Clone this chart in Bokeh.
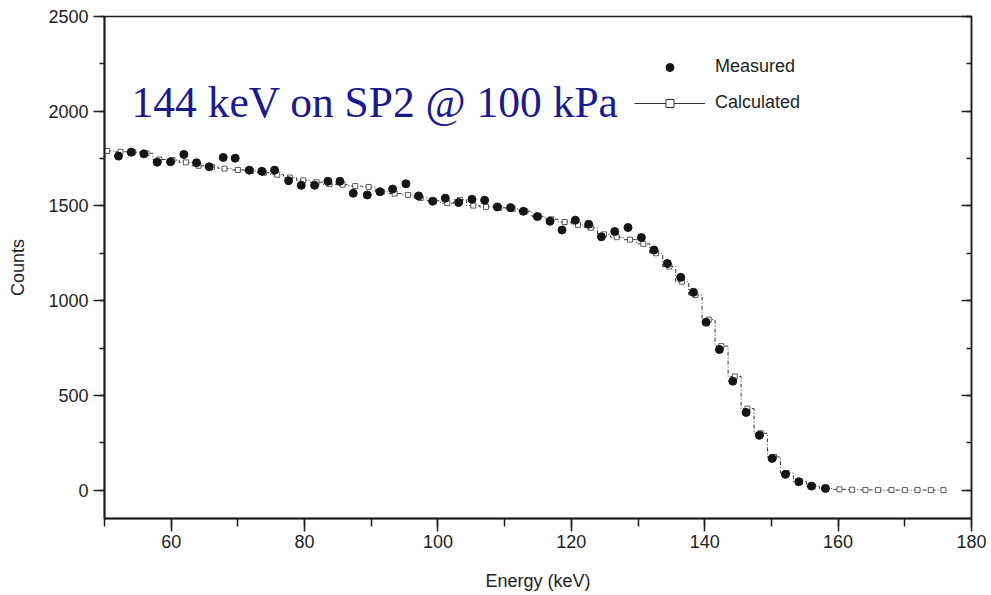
import math
from bokeh.plotting import figure
from bokeh.models import (Range1d, LinearAxis, Label, Legend, LegendItem,
                          SingleIntervalTicker, ColumnDataSource, CustomJSTickFormatter)
from bokeh.embed import file_html
from bokeh.resources import INLINE

# ---------------- data ----------------
measured_energy = [52.1, 54.0, 55.9, 57.9, 59.9, 61.9, 63.8, 65.7, 67.8, 69.6,
                   71.7, 73.6, 75.5, 77.6, 79.5, 81.5, 83.5, 85.3, 87.3, 89.4,
                   91.3, 93.2, 95.2, 97.1, 99.2, 101.1, 103.1, 105.1, 107.0, 108.9,
                   110.9, 112.8, 114.9, 116.8, 118.6, 120.6, 122.6, 124.5, 126.5, 128.5,
                   130.5, 132.4, 134.4, 136.4, 138.3, 140.2, 142.2, 144.2, 146.2, 148.2,
                   150.1, 152.1, 154.1, 156.0, 158.1]
measured_counts = [1763, 1784, 1775, 1731, 1733, 1772, 1728, 1707, 1756, 1752,
                   1689, 1683, 1689, 1633, 1609, 1609, 1630, 1630, 1567, 1558,
                   1575, 1589, 1617, 1553, 1525, 1541, 1518, 1535, 1530, 1495,
                   1491, 1472, 1444, 1419, 1373, 1425, 1403, 1337, 1365, 1386,
                   1333, 1267, 1196, 1123, 1044, 886, 742, 575, 410, 289,
                   167, 83, 44, 21, 9]

calc_energy = [50.4, 52.4, 54.3, 56.3, 58.2, 60.2, 62.2, 64.1, 66.1, 68.0,
               70.0, 72.0, 73.9, 75.9, 77.8, 79.8, 81.8, 83.7, 85.7, 87.6,
               89.6, 91.6, 93.5, 95.5, 97.4, 99.4, 101.4, 103.3, 105.3, 107.2,
               109.2, 111.2, 113.1, 115.1, 117.0, 119.0, 121.0, 122.9, 124.9, 126.8,
               128.8, 130.8, 132.7, 134.7, 136.6, 138.6, 140.6, 142.5, 144.5, 146.4,
               148.4, 150.4, 152.3, 154.3, 156.2, 158.2, 160.2, 162.1, 164.1, 166.0,
               168.0, 170.0, 171.9, 173.9, 175.8]
calc_counts = [1790, 1786, 1784, 1778, 1745, 1742, 1730, 1712, 1705, 1697,
               1690, 1684, 1675, 1665, 1650, 1635, 1625, 1615, 1612, 1605,
               1600, 1575, 1565, 1558, 1542, 1527, 1515, 1532, 1502, 1495,
               1490, 1485, 1472, 1445, 1430, 1415, 1400, 1385, 1350, 1335,
               1322, 1300, 1250, 1180, 1100, 1030, 900, 760, 600, 430,
               300, 175, 90, 45, 20, 8, 4, 2, 1, 0,
               0, 0, 0, 0, 0]

title_text = "144 keV on SP2 @ 100 kPa"
x_label = "Energy (keV)"
y_label = "Counts"
legend_labels = ["Measured", "Calculated"]

# ---------------- figure ----------------
INK = "#1e1e1e"
SANS = "Liberation Sans"

p = figure(width=991, height=595, output_backend="svg", toolbar_location=None,
           x_range=Range1d(50, 180), y_range=Range1d(-150, 2500),
           min_border_left=104, min_border_right=20, min_border_top=16,
           min_border_bottom=77)
p.grid.visible = False
p.outline_line_color = INK
p.outline_line_width = 1.5
p.background_fill_color = "white"
p.border_fill_color = "white"

p.xaxis.ticker = SingleIntervalTicker(interval=20, num_minor_ticks=2)
p.yaxis.ticker = SingleIntervalTicker(interval=500, num_minor_ticks=2)

for ax in (p.xaxis[0], p.yaxis[0]):
    ax.axis_line_color = INK
    ax.axis_line_width = 2
    ax.major_tick_line_color = INK
    ax.minor_tick_line_color = INK
    ax.major_tick_line_width = 1.5
    ax.minor_tick_line_width = 1.5
    ax.major_tick_in = 0
    ax.minor_tick_in = 0
    ax.major_label_text_font = SANS
    ax.major_label_text_font_size = "18px"
    ax.major_label_text_color = INK
    ax.axis_label_text_font = SANS
    ax.axis_label_text_font_size = "18px"
    ax.axis_label_text_font_style = "normal"
    ax.axis_label_text_color = INK

p.xaxis.major_tick_out = 13
p.xaxis.minor_tick_out = 8
p.xaxis.major_label_standoff = 3
p.xaxis.axis_label = x_label
p.xaxis.axis_label_standoff = 20

p.yaxis.major_tick_out = 11
p.yaxis.minor_tick_out = 5
p.yaxis.major_label_standoff = 5
p.yaxis.axis_label = y_label
p.yaxis.axis_label_standoff = 17

# mirrored right axis with inward ticks, no labels
right = LinearAxis(ticker=SingleIntervalTicker(interval=500, num_minor_ticks=2),
                   formatter=CustomJSTickFormatter(code="return '';"),
                   axis_line_color=INK, axis_line_width=1.5,
                   major_tick_line_color=INK, minor_tick_line_color=INK,
                   major_tick_line_width=1.5, minor_tick_line_width=1.5,
                   major_tick_in=10, major_tick_out=0, minor_tick_in=5, minor_tick_out=0,
                   major_label_standoff=0)
p.add_layout(right, "right")

# ---------------- data renderers ----------------
calc_src = ColumnDataSource(dict(e=calc_energy, c=calc_counts))
meas_src = ColumnDataSource(dict(e=measured_energy, c=measured_counts))

p.step(x="e", y="c", source=calc_src, mode="center", line_color="#333333",
       line_width=1, line_dash="4 2 1 2")
p.scatter(x="e", y="c", source=calc_src, marker="square", size=5,
          fill_color="white", line_color="#333333", line_width=0.8)
p.scatter(x="e", y="c", source=meas_src, marker="circle", size=8,
          fill_color="#151515", line_color="#151515")

# legend proxies (no visible data)
nan_src = ColumnDataSource(dict(e=[math.nan], c=[math.nan]))
leg_dot = p.scatter(x="e", y="c", source=nan_src, marker="circle", size=6,
                    fill_color="#151515", line_color="#151515")
leg_line = p.line(x="e", y="c", source=nan_src, line_color="#333333", line_width=1.2)
leg_sq = p.scatter(x="e", y="c", source=nan_src, marker="square", size=6,
                   fill_color="white", line_color="#333333", line_width=1)

legend = Legend(items=[LegendItem(label=legend_labels[0], renderers=[leg_dot]),
                       LegendItem(label=legend_labels[1], renderers=[leg_line, leg_sq])],
                location=(530, 405), glyph_width=71, glyph_height=20,
                label_height=20, spacing=15, padding=0, margin=0,
                label_standoff=10, border_line_color=None,
                background_fill_alpha=0, label_text_font=SANS,
                label_text_font_size="18px", label_text_color=INK)
p.add_layout(legend)

title = Label(x=27, y=417, x_units="screen", y_units="screen", text=title_text,
              text_font="Liberation Serif", text_font_size="43.5px",
              text_color="#1a1a8c", text_baseline="middle", text_align="left")
p.add_layout(title)

open("out.html", "w").write(file_html(p, INLINE))
